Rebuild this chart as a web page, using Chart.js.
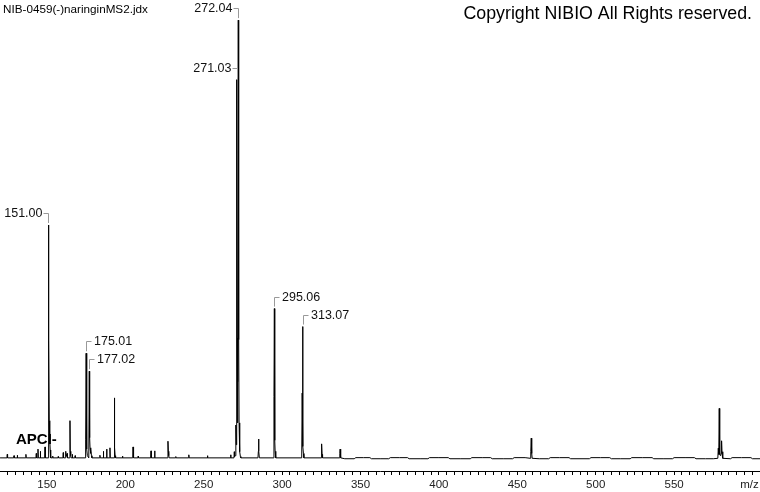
<!DOCTYPE html>
<html>
<head>
<meta charset="utf-8">
<script src="https://cdn.jsdelivr.net/npm/chart.js@4.4.1/dist/chart.umd.min.js"></script>
<style>
  html, body { margin: 0; padding: 0; background: #fff; }
  #wrap { width: 760px; height: 492px; position: relative; }
</style>
</head>
<body>
<div id="wrap"><canvas id="c"></canvas></div>
<script>
// ---- Data ----
const mz = [
  120.1, 124.5, 124.7, 124.9, 128.8, 129.0, 129.2, 131.0, 131.1, 131.3,
  136.4, 136.6, 136.8, 143.0, 143.2, 143.4, 144.1, 144.3, 144.5, 145.6, 145.8, 146.0,
  148.6, 148.8, 149.0,
  150.8, 151.0, 151.2, 151.5, 151.8, 152.1, 152.4,
  153.5, 153.7, 153.9, 157.0, 157.2, 157.4,
  160.2, 160.4, 160.6, 161.8, 162.0, 162.2, 162.9, 163.1,
  164.5, 164.7, 164.9, 165.2, 165.5, 166.0, 166.2, 166.4, 167.8, 168.0, 168.2,
  174.5, 174.7, 175.01, 175.25, 175.5, 175.8,
  176.7, 177.02, 177.25, 177.5, 177.8, 178.1, 178.4, 178.7,
  183.6, 183.8, 184.0, 185.8, 186.0, 186.2, 187.9, 188.1, 188.3, 190.0, 190.2, 190.4,
  192.8, 193.0, 193.25, 193.5, 193.8,
  198.0, 198.2, 198.4, 204.7, 204.9, 205.1, 205.4, 208.0, 208.2, 208.4,
  216.2, 216.4, 216.6, 218.5, 218.7, 218.9,
  227.0, 227.2, 227.45, 227.7, 228.0, 232.0, 232.2, 232.4,
  240.3, 240.5, 240.7, 252.2, 252.4, 252.6,
  267.0, 267.2, 267.4, 269.3, 269.5, 269.7, 270.2, 270.5, 270.75,
  271.03, 271.3, 271.55, 271.8, 272.04, 272.3, 272.55, 272.8, 273.1, 273.4, 273.7,
  284.6, 284.85, 285.0, 285.2, 285.5,
  294.5, 294.8, 295.06, 295.3, 295.55, 295.8, 296.1,
  312.5, 312.8, 313.07, 313.3, 313.6, 313.9,
  324.9, 325.1, 325.3, 325.5, 325.8,
  336.5, 336.8, 337.0, 337.2, 337.5,
  340, 346, 347, 352, 356, 357, 363, 368, 369, 375, 380, 381, 388, 393, 394, 400,
  406, 407, 414, 420, 421, 428, 433, 434, 441, 447, 448, 455,
  458.3, 458.6, 458.9, 459.2, 459.5,
  464, 470, 471, 477, 483, 484, 490, 496, 497, 503, 509, 510, 516, 522, 523, 530,
  536, 537, 543, 549, 550, 557, 563, 564, 570, 575,
  577.9, 578.2, 578.5, 578.8, 579.1, 579.6, 580.0, 580.3, 580.6, 580.9, 581.2,
  586, 587, 593, 599, 600, 604.8
];
const intensity = [
  0, 0, 0.8, 0, 0, 0.5, 0, 0, 0.6, 0,
  0, 0.8, 0, 0, 1.0, 0, 0, 2.0, 0, 0, 1.5, 0,
  0, 2.5, 0,
  0, 53.2, 26.9, 8.5, 4.0, 1.8, 0,
  0, 0.4, 0, 0, 0.3, 0,
  0, 1.2, 0, 0, 1.5, 0.3, 1.0, 0,
  0, 8.5, 1.5, 0.5, 0, 0, 0.8, 0, 0, 0.5, 0,
  0, 4.1, 23.9, 11.7, 2.0, 0.5,
  0, 19.8, 4.6, 2.3, 1.0, 2.0, 0.5, 0,
  0, 0.6, 0, 0, 1.5, 0, 0, 2.0, 0, 0, 2.3, 0,
  0, 13.7, 2.3, 0.5, 0,
  0, 0.4, 0, 0, 2.5, 0.6, 0, 0, 0.4, 0,
  0, 1.6, 0, 0, 1.6, 0,
  0, 3.8, 1.5, 0.5, 0, 0, 0.3, 0,
  0, 0.7, 0, 0, 0.5, 0,
  0, 0.7, 0, 0, 1.4, 0.3, 0.5, 7.5, 3.0,
  86.4, 27.4, 8.0, 17.4, 100, 27.0, 8.0, 3.0, 1.4, 0.3, 0,
  0, 1.5, 4.3, 1.5, 0,
  0, 14.0, 34.1, 4.0, 1.5, 0.4, 0,
  0, 14.8, 30.0, 2.6, 1.0, 0,
  0, 1.0, 3.2, 0.8, 0,
  0, 1.0, 2.0, 0.8, 0,
  -0.2, -0.2, 0.05, 0.05, 0.05, -0.2, -0.2, -0.2, 0.05, 0.05, 0.05, -0.2, -0.2, -0.2, 0.05, 0.05,
  0.05, -0.2, -0.2, -0.2, 0.05, 0.05, 0.05, -0.2, -0.2, -0.2, 0.05, 0.05,
  -0.1, 1.4, 4.5, 1.0, -0.1,
  -0.2, -0.2, 0.05, 0.05, 0.05, -0.2, -0.2, -0.2, 0.05, 0.05, 0.05, -0.2, -0.2, -0.2, 0.05, 0.05,
  0.05, -0.2, -0.2, -0.2, 0.05, 0.05, 0.05, -0.2, -0.2, -0.2,
  -0.1, 2.2, 0.8, 11.3, 0.8, 0.5, 1.0, 3.9, 0.8, 1.4, -0.1,
  -0.2, 0.05, 0.05, 0.05, -0.2, -0.2
];
// Annotated peaks
const labelMz = [151.00, 175.01, 177.02, 271.03, 272.04, 295.06, 313.07];
const labelIntensity = [53.2, 23.9, 19.8, 86.4, 100, 34.1, 30.0];
const labelText = ['151.00', '175.01', '177.02', '271.03', '272.04', '295.06', '313.07'];
const labelSide = ['left', 'right', 'right', 'left', 'left', 'right', 'right'];
// Axis ticks
const tickLabels = [150, 200, 250, 300, 350, 400, 450, 500, 550];
const title = 'NIB-0459(-)naringinMS2.jdx';
const copyright = 'Copyright NIBIO All Rights reserved.';
const ionMode = 'APCI-';
const axisTitle = 'm/z';

const points = mz.map((m, i) => ({ x: m, y: intensity[i] }));
const FONT = '"Liberation Sans", Arial, sans-serif';

const decor = {
  id: 'decor',
  beforeDraw(chart) {
    const ctx = chart.ctx;
    ctx.save();
    ctx.fillStyle = '#fff';
    ctx.fillRect(0, 0, chart.width, chart.height);
    ctx.restore();
  },
  beforeDatasetsDraw(chart) {
    const ctx = chart.ctx;
    ctx.save();
    ctx.font = 'bold 15px ' + FONT;
    ctx.fillStyle = '#000';
    ctx.textBaseline = 'middle';
    ctx.textAlign = 'left';
    ctx.fillText(ionMode, 16, 440);
    ctx.restore();
  },
  afterDraw(chart) {
    const ctx = chart.ctx;
    const xs = chart.scales.x, ys = chart.scales.y;
    ctx.save();
    // title & copyright
    ctx.fillStyle = '#000';
    ctx.textBaseline = 'middle';
    ctx.font = '11.7px ' + FONT;
    ctx.textAlign = 'left';
    ctx.fillText(title, 3, 10);
    ctx.font = '17.8px ' + FONT;
    ctx.textAlign = 'right';
    ctx.fillText(copyright, 752, 14);
    // axis title
    ctx.font = '11.5px ' + FONT;
    ctx.textAlign = 'center';
    ctx.fillStyle = '#222';
    ctx.fillText(axisTitle, xs.getPixelForValue(600) - 3, 485);
    // peak labels
    ctx.font = '12.5px ' + FONT;
    labelMz.forEach((m, i) => {
      const px = Math.round(xs.getPixelForValue(m)) + 0.5;
      const py = ys.getPixelForValue(labelIntensity[i]);
      const top = Math.round(py - 12) + 0.5;
      ctx.strokeStyle = '#999';
      ctx.lineWidth = 1;
      ctx.beginPath();
      ctx.moveTo(px, py - 2);
      ctx.lineTo(px, top);
      if (labelSide[i] === 'left') {
        ctx.lineTo(px - 5, top);
      } else {
        ctx.lineTo(px + 5, top);
      }
      ctx.stroke();
      ctx.fillStyle = '#111';
      ctx.textBaseline = 'middle';
      if (labelSide[i] === 'left') {
        ctx.textAlign = 'right';
        ctx.fillText(labelText[i], px - 6, top);
      } else {
        ctx.textAlign = 'left';
        ctx.fillText(labelText[i], px + 7.5, top);
      }
    });
    ctx.restore();
  }
};

new Chart(document.getElementById('c'), {
  type: 'scatter',
  data: {
    datasets: [{
      data: points,
      showLine: true,
      borderColor: '#000',
      borderWidth: 1,
      pointRadius: 0,
      tension: 0,
      fill: false
    }]
  },
  options: {
    responsive: true,
    maintainAspectRatio: false,
    animation: false,
    layout: { padding: 0 },
    plugins: { legend: { display: false }, tooltip: { enabled: false }, title: { display: false } },
    scales: {
      x: {
        type: 'linear',
        min: 120.07,
        max: 604.8,
        afterFit: (scale) => { scale.height = 21; },
        border: { display: true, color: '#000', width: 1 },
        grid: { drawOnChartArea: false, drawTicks: true, tickLength: 4, color: '#000' },
        ticks: {
          stepSize: 5,
          includeBounds: false,
          autoSkip: false,
          maxRotation: 0,
          minRotation: 0,
          padding: 3,
          color: '#222',
          font: { family: FONT, size: 11.5 },
          callback: (v) => tickLabels.includes(v) ? String(v) : ''
        }
      },
      y: {
        display: false,
        min: -3,
        max: 104.6
      }
    }
  },
  plugins: [decor]
});
</script>
</body>
</html>
